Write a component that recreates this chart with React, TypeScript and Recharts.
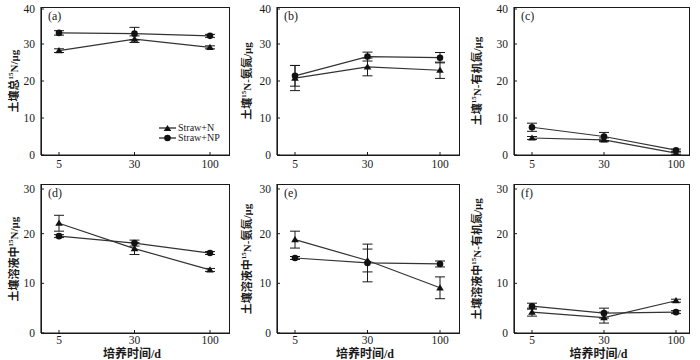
import React from "react";
import { LineChart, Line, XAxis, YAxis, ErrorBar } from "recharts";

const days = ["5", "30", "100"];
const seriesNames = ["Straw+N", "Straw+NP"];

// (a) soil total 15N
const aN = [28.2, 31.3, 29.1];
const aNErr = [0.5, 0.9, 0.4];
const aNP = [33.0, 32.8, 32.2];
const aNPErr = [0.6, 1.7, 0.4];
// (b) soil 15N ammonium
const bN = [20.8, 23.8, 22.9];
const bNErr = [3.4, 2.4, 2.2];
const bNP = [21.4, 26.6, 26.3];
const bNPErr = [2.8, 1.2, 1.4];
// (c) soil 15N organic
const cN = [4.6, 4.1, 0.5];
const cNErr = [0.4, 0.5, 0.3];
const cNP = [7.5, 5.0, 1.3];
const cNPErr = [1.1, 1.1, 0.3];
// (d) solution 15N
const dN = [22.1, 17.0, 12.7];
const dNErr = [1.6, 1.2, 0.3];
const dNP = [19.5, 18.1, 16.1];
const dNPErr = [0.3, 0.6, 0.3];
// (e) solution 15N ammonium
const eN = [18.8, 14.6, 9.1];
const eNErr = [1.7, 2.3, 2.2];
const eNP = [15.1, 14.1, 13.9];
const eNPErr = [0.3, 3.8, 0.6];
// (f) solution 15N organic
const fN = [4.2, 3.1, 6.5];
const fNErr = [0.8, 1.1, 0.3];
const fNP = [5.4, 4.0, 4.2];
const fNPErr = [0.6, 1.0, 0.3];

const topTicks = [0, 10, 20, 30, 40];
const bottomTicks = [0, 10, 20, 30];

const FONT = '"Liberation Serif", "Noto Sans CJK SC", serif';
const INK = "#1a1a1a";

const rows = (n: number[], nErr: number[], np: number[], npErr: number[]) =>
  days.map((d, i) => ({ day: d, n: n[i], nErr: nErr[i], np: np[i], npErr: npErr[i] }));

const cols = [
  { cellX: 0, w: 233, plotL: 41, plotR: 229, padR: 19, labelX: 14 },
  { cellX: 233, w: 230, plotL: 277, plotR: 459, padR: 19, labelX: 247 },
  { cellX: 463, w: 237, plotL: 514, plotR: 689, padR: 13, labelX: 477 },
];
const rowsGeo = [
  { cellY: 0, h: 180, plotT: 7, plotB: 155, yMax: 40, ticks: topTicks, tickDy: 13 },
  { cellY: 180, h: 180, plotT: 184, plotB: 333, yMax: 30, ticks: bottomTicks, tickDy: 11 },
];

const Tri = (p: any) => {
  const { cx, cy } = p;
  if (cx == null || cy == null) return <g />;
  return <path d={`M${cx},${cy - 3.6} L${cx + 3.8},${cy + 2.6} L${cx - 3.8},${cy + 2.6} Z`} fill="#111" />;
};
const Dia = (p: any) => {
  const { cx, cy } = p;
  if (cx == null || cy == null) return <g />;
  return <circle cx={cx} cy={cy} r={3.3} fill="#111" />;
};

const makeXTick = (dy: number) => (p: any) => (
  <g>
    <line x1={p.x} y1={p.y} x2={p.x} y2={p.y - 3} stroke={INK} />
    <text x={p.x} y={p.y + dy} textAnchor="middle" fontFamily={FONT} fontSize={11.5} fill={INK}>
      {p.payload.value}
    </text>
  </g>
);
const YTick = (p: any) => (
  <g>
    <line x1={p.x} y1={p.y} x2={p.x + 3} y2={p.y} stroke={INK} />
    <text x={p.x - 6} y={p.y + 4} textAnchor="end" fontFamily={FONT} fontSize={11.5} fill={INK}>
      {p.payload.value}
    </text>
  </g>
);

const LegendBox = () => (
  <div
    style={{
      position: "absolute",
      left: 158,
      top: 123,
      fontFamily: FONT,
      fontSize: 10,
      color: INK,
      lineHeight: "10px",
    }}
  >
    {seriesNames.map((name, i) => (
      <div key={name} style={{ display: "flex", alignItems: "center", height: 10 }}>
        <svg width={19} height={10} style={{ display: "block" }}>
          <line x1={1} y1={5} x2={18} y2={5} stroke={INK} strokeWidth={1.2} />
          {i === 0 ? <Tri cx={9.5} cy={5.5} /> : <Dia cx={9.5} cy={5} />}
        </svg>
        <span style={{ marginLeft: 1 }}>{name}</span>
      </div>
    ))}
  </div>
);

type PanelProps = {
  col: number;
  row: number;
  letter: string;
  label: React.ReactNode;
  data: any[];
};

const Panel = ({ col, row, letter, label, data }: PanelProps) => {
  const c = cols[col];
  const r = rowsGeo[row];
  const xH = r.cellY + r.h - r.plotB;
  const XTick = makeXTick(r.tickDy);
  return (
    <>
      <div style={{ position: "absolute", left: c.cellX, top: r.cellY }}>
        <LineChart
          width={c.w}
          height={r.h}
          data={data}
          margin={{ top: r.plotT - r.cellY, right: c.cellX + c.w - c.plotR, bottom: 0, left: c.plotL - c.cellX - 30 }}
        >
          <XAxis
            dataKey="day"
            height={xH}
            padding={{ left: 18, right: c.padR }}
            tickLine={false}
            tickSize={0}
            tickMargin={0}
            tick={<XTick />}
            axisLine={{ stroke: INK, strokeWidth: 1.2 }}
            interval={0}
          />
          <YAxis
            width={30}
            domain={[0, r.yMax]}
            ticks={r.ticks}
            tickLine={false}
            tickSize={0}
            tickMargin={0}
            tick={<YTick />}
            axisLine={{ stroke: INK, strokeWidth: 1.2 }}
          />
          <Line dataKey="n" name={seriesNames[0]} stroke="#333" strokeWidth={1.2} dot={<Tri />} activeDot={false} isAnimationActive={false}>
            <ErrorBar dataKey="nErr" width={5} stroke={INK} strokeWidth={1} direction="y" isAnimationActive={false} />
          </Line>
          <Line dataKey="np" name={seriesNames[1]} stroke="#333" strokeWidth={1.2} dot={<Dia />} activeDot={false} isAnimationActive={false}>
            <ErrorBar dataKey="npErr" width={5} stroke={INK} strokeWidth={1} direction="y" isAnimationActive={false} />
          </Line>
          <text x={c.plotL - c.cellX + 7} y={r.plotT - r.cellY + 13} fontFamily={FONT} fontSize={12} fill={INK}>
            {letter}
          </text>
        </LineChart>
      </div>
      {/* plot frame */}
      <div
        style={{
          position: "absolute",
          left: c.plotL - 0.5,
          top: r.plotT - 0.5,
          width: c.plotR - c.plotL + 1,
          height: r.plotB - r.plotT + 1,
          boxSizing: "border-box",
          border: `1px solid ${INK}`,
          pointerEvents: "none",
        }}
      />
      <div
        style={{
          position: "absolute",
          left: c.labelX,
          top: (r.plotT + r.plotB) / 2,
          transform: "translate(-50%, -50%) rotate(-90deg)",
          whiteSpace: "nowrap",
          fontFamily: FONT,
          fontSize: 11,
          fontWeight: 600,
          lineHeight: "12px",
          color: INK,
        }}
      >
        {label}
      </div>
      {row === 1 && (
        <div
          style={{
            position: "absolute",
            left: (c.plotL + c.plotR) / 2 - 3,
            top: 354,
            transform: "translate(-50%, -50%)",
            whiteSpace: "nowrap",
            fontFamily: FONT,
            fontSize: 12,
            fontWeight: 600,
            lineHeight: "12px",
            color: INK,
          }}
        >
          培养时间/d
        </div>
      )}
    </>
  );
};

const sup = <sup style={{ fontSize: 7, lineHeight: 0 }}>15</sup>;

export default function App() {
  return (
    <div style={{ position: "absolute", left: 0, top: 0, width: 700, height: 360, background: "#fff", overflow: "hidden" }}>
      <Panel col={0} row={0} letter="(a)" data={rows(aN, aNErr, aNP, aNPErr)} label={<>土壤总{sup}N/μg</>} />
      <Panel col={1} row={0} letter="(b)" data={rows(bN, bNErr, bNP, bNPErr)} label={<>土壤{sup}N-氨氮/μg</>} />
      <Panel col={2} row={0} letter="(c)" data={rows(cN, cNErr, cNP, cNPErr)} label={<>土壤{sup}N-有机氮/μg</>} />
      <Panel col={0} row={1} letter="(d)" data={rows(dN, dNErr, dNP, dNPErr)} label={<>土壤溶液中{sup}N/μg</>} />
      <Panel col={1} row={1} letter="(e)" data={rows(eN, eNErr, eNP, eNPErr)} label={<>土壤溶液中{sup}N-氨氮/μg</>} />
      <Panel col={2} row={1} letter="(f)" data={rows(fN, fNErr, fNP, fNPErr)} label={<>土壤溶液中{sup}N-有机氮/μg</>} />
      <LegendBox />
    </div>
  );
}
